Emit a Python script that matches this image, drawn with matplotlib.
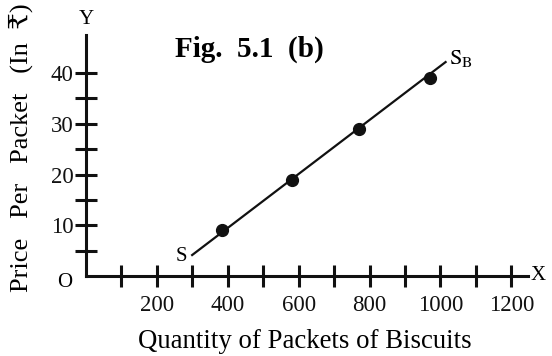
import matplotlib
matplotlib.use('Agg')
import matplotlib.pyplot as plt

# Supply schedule for biscuits
quantity = [385, 580, 770, 970]
price = [9, 19, 29, 39]

# Supply line S - S_B
line_q = [297, 1017]
line_p = [4, 42.3]

x_ticks = list(range(100, 1300, 100))
x_labels = [str(v) if v % 200 == 0 else '' for v in x_ticks]
y_ticks = list(range(5, 45, 5))
y_labels = [str(v) if v % 10 == 0 else '' for v in y_ticks]

SERIF = ['Liberation Serif', 'DejaVu Serif', 'DejaVu Sans']
plt.rcParams['font.family'] = SERIF
plt.rcParams['mathtext.fontset'] = 'stix'

fig = plt.figure(figsize=(5.52, 3.56), dpi=100)
# origin sits at pixel (86, 276)
ax = fig.add_axes([86 / 552, 80 / 356, 442 / 552, 241 / 356])
ax.set_xlim(0, 1247)
ax.set_ylim(0, 47.5)

for side in ('top', 'right'):
    ax.spines[side].set_visible(False)
for side in ('left', 'bottom'):
    ax.spines[side].set_linewidth(2.2)
    ax.spines[side].set_color('#111111')

ax.set_xticks(x_ticks)
ax.set_xticklabels(x_labels)
ax.set_yticks(y_ticks)
ax.set_yticklabels(y_labels)
ax.tick_params(axis='x', direction='inout', length=16, width=2.2, pad=6,
               labelsize=16.5, colors='#111111')
ax.tick_params(axis='y', direction='inout', length=16, width=2.2, pad=1,
               labelsize=16.5, colors='#111111')

ax.plot(line_q, line_p, color='#111111', lw=1.6, solid_capstyle='butt')
ax.plot(quantity, price, 'o', color='#111111', ms=8.5)

ax.text(-60, -1.2, 'O', fontsize=15, ha='center', va='center')
ax.text(1275, 0, 'X', fontsize=15, ha='center', va='center', clip_on=False)
ax.text(0, 50.5, 'Y', fontsize=15, ha='center', va='center', clip_on=False)
ax.text(268, 3.9, 'S', fontsize=15, ha='center', va='center')
ax.text(1024, 42.8, r'$\mathrm{S_B}$', fontsize=16, ha='left', va='center', clip_on=False)
ax.text(251, 44.6, 'Fig.  5.1  (b)', fontsize=21, fontweight='bold', ha='left', va='center',
        clip_on=False)

fig.text(305 / 552, (356 - 342) / 356, 'Quantity of Packets of Biscuits',
         fontsize=19.3, ha='center', va='center')
fig.text(21 / 552, (356 - 292) / 356, 'Price   Per   Packet   (In  \u20b9)',
         fontsize=19, rotation=90, ha='center', va='bottom', family=SERIF)

fig.savefig('out.png', dpi=100)
